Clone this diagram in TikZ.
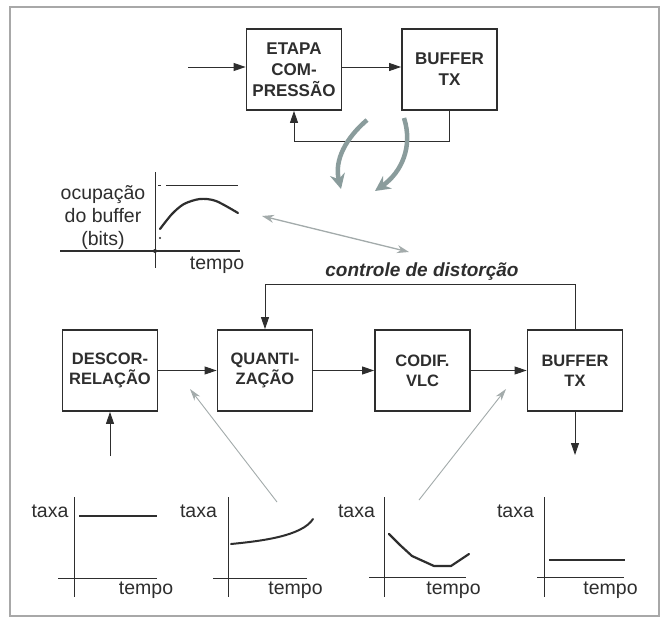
\documentclass[tikz,border=0pt]{standalone}
\usepackage{fontspec}
\setmainfont{Liberation Sans}
\usetikzlibrary{arrows.meta}
\definecolor{ink}{HTML}{2E2E2E}
\definecolor{garrow}{HTML}{8A9C9C}
\definecolor{lgarrow}{HTML}{A3ABAB}
\definecolor{framec}{HTML}{A8A8A8}
\begin{document}
\begin{tikzpicture}[x=1pt,y=-1pt,
  blk/.style={draw=ink,line width=1.8pt,minimum width=95pt,minimum height=81pt,inner sep=0pt,align=center,text=ink,font=\fontsize{17}{21}\selectfont\bfseries},
  blkb/.style={blk,font=\fontsize{16.5}{20}\selectfont\bfseries},
  conn/.style={draw=ink,line width=0.9pt,-{Triangle[length=12pt,width=8pt]}},
  axis/.style={draw=ink,line width=0.9pt},
  curve/.style={draw=ink,line width=2.4pt,line cap=round,line join=round},
  thinarrow/.style={draw=lgarrow,line width=0.9pt,-{Stealth[length=12pt,width=7pt]}},
  dblarrow/.style={draw=lgarrow,line width=1.3pt,{Stealth[length=12pt,width=8pt]}-{Stealth[length=12pt,width=8pt]}},
  bigarrow/.style={draw=garrow,line width=4.5pt,-{Stealth[length=15pt,width=15pt]}},
  lbl/.style={inner sep=0pt,text=ink,font=\fontsize{19.5}{23}\selectfont},
  ctl/.style={inner sep=0pt,text=ink,font=\fontsize{19}{23}\selectfont\bfseries\itshape}]
\useasboundingbox (0,0) rectangle (669,623);
\fill[white] (0,0) rectangle (669,623);
\draw[framec,line width=1.5pt] (10,7) rectangle (659,616);

% top row
\node[blk] (etapa) at (294,69.5) {ETAPA\\COM-\\PRESSÃO};
\node[blk] (buf1) at (449.5,69.5) {BUFFER\\TX};
\coordinate (in1) at (188,67);
\draw[conn] (in1) -- (in1 -| etapa.west);
\draw[conn] (etapa.east |- in1) -- (buf1.west |- in1);
\draw[conn] (buf1.south) -- ++(0,31) -| (etapa.south);

% curved gray arrows
\coordinate (ca1) at (367,120);
\coordinate (ca2) at (341,189);
\coordinate (cb1) at (404,118);
\coordinate (cb2) at (375,191);
\draw[bigarrow] (ca1) .. controls (346,138) and (334,160) .. (ca2);
\draw[bigarrow] (cb1) .. controls (413,146) and (402,172) .. (cb2);

% buffer occupancy chart
\node[lbl,align=center] (occ) at (103,218) {ocupação\\do buffer\\(bits)};
\draw[axis] (155,172) -- (155,268);
\draw[axis,line width=1.4pt] (60,251) -- (240,251);
\fill[ink] (155,251) circle (2pt);
\draw[ink,line width=0.9pt] (158,185) -- (161,185);
\draw[ink,line width=0.9pt] (166,185) -- (238,185);
\draw[curve,line width=2.2pt] plot[smooth] coordinates {(160,229) (172,214) (184,204) (200,199) (216,201) (238,213)};
\fill[ink] (160,238) circle (1.2pt);
\node[lbl] (t0) at (217,265) {tempo};

% double arrow
\coordinate (da1) at (262,216);
\coordinate (da2) at (409,252);
\draw[dblarrow] (da1) -- (da2);

% bottom row
\node[blkb] (desc) at (110,370.5) {DESCOR-\\RELAÇÃO};
\node[blkb] (quant) at (265,370.5) {QUANTI-\\ZAÇÃO};
\node[blkb] (codif) at (422.5,370.5) {CODIF.\\VLC};
\node[blkb] (buf2) at (575,370.5) {BUFFER\\TX};
\draw[conn] (desc) -- (quant);
\draw[conn] (quant) -- (codif);
\draw[conn] (codif) -- (buf2);
\node[ctl] (ctl) at (422,272) {controle de distorção};
\draw[conn] (buf2.north) -- ++(0,-45) -| (quant.north);
\coordinate (inb) at (110,456);
\draw[conn] (inb) -- (desc.south);
\coordinate (outb) at (575,455);
\draw[conn] (buf2.south) -- (outb);

% thin gray arrows from charts
\coordinate (g1s) at (277,502);
\coordinate (g1e) at (190,389);
\coordinate (g2s) at (419,500);
\coordinate (g2e) at (506,389);
\draw[thinarrow] (g1s) -- (g1e);
\draw[thinarrow] (g2s) -- (g2e);

% chart 1
\draw[axis] (74,497) -- (74,597);
\draw[axis] (58,578) -- (157,578);
\node[lbl] (x1) at (50,511) {taxa};
\node[lbl] (y1) at (146,590) {tempo};
\draw[curve,line cap=butt] (79,516) -- (157,516);

% chart 2
\draw[axis] (228,497) -- (228,597);
\draw[axis] (213,578) -- (307,578);
\node[lbl] (x2) at (198.5,511) {taxa};
\node[lbl] (y2) at (295.5,590) {tempo};
\draw[curve,line width=2pt] (231,544) .. controls (262,541) and (302,536) .. (313,519);

% chart 3
\draw[axis] (384,497) -- (384,597);
\draw[axis] (369,577) -- (466,577);
\node[lbl] (x3) at (356.5,511) {taxa};
\node[lbl] (y3) at (453.5,590) {tempo};
\draw[curve,line width=2.2pt] (389,534) -- (400,545) -- (412,556) -- (434,566) -- (451,566) -- (469,554);

% chart 4
\draw[axis] (544,497) -- (544,597);
\draw[axis] (537,577) -- (624,577);
\node[lbl] (x4) at (515.5,511) {taxa};
\node[lbl] (y4) at (610.5,590) {tempo};
\draw[curve,line cap=butt] (549,560) -- (625,560);
\end{tikzpicture}
\end{document}
